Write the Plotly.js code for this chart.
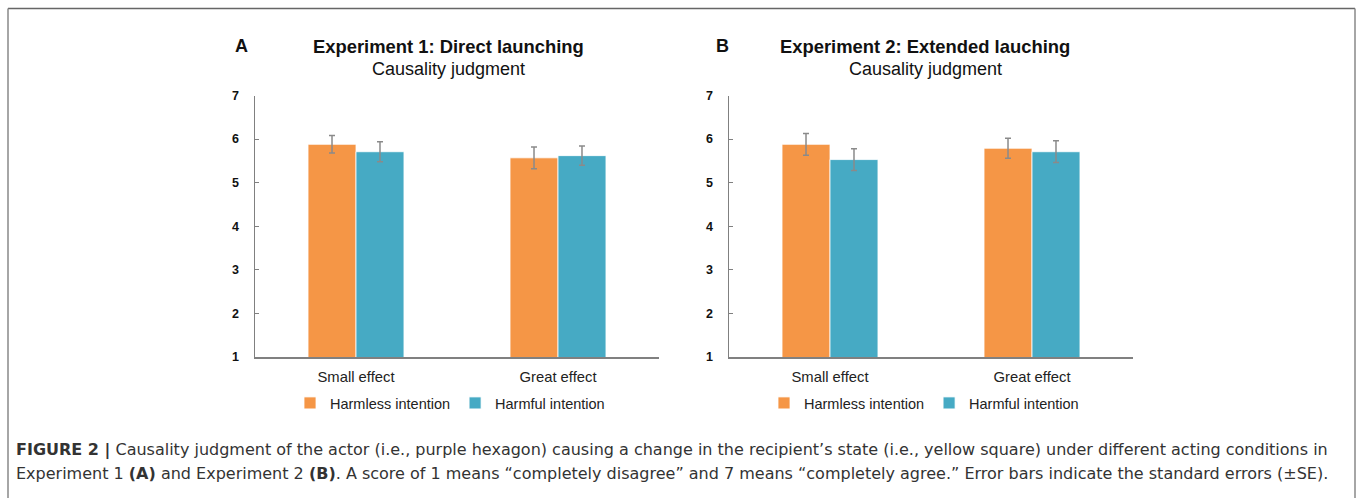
<!DOCTYPE html>
<html>
<head>
<meta charset="utf-8">
<script src="https://cdn.plot.ly/plotly-3.0.1.min.js"></script>
<style>
  html, body { margin: 0; padding: 0; background: #fff; }
  #chart { width: 1357px; height: 498px; }
</style>
</head>
<body>
<div id="chart"></div>
<script>
// ---- data ----
const categories = ["Small effect", "Great effect"];
const seriesNames = ["Harmless intention", "Harmful intention"];
const exp1Harmless = [5.88, 5.57];
const exp1Harmful = [5.71, 5.62];
const exp1HarmlessSE = [0.20, 0.25];
const exp1HarmfulSE = [0.23, 0.22];
const exp2Harmless = [5.88, 5.79];
const exp2Harmful = [5.53, 5.71];
const exp2HarmlessSE = [0.25, 0.23];
const exp2HarmfulSE = [0.25, 0.25];
const yTicks = [1, 2, 3, 4, 5, 6, 7];

// ---- styles ----
const W = 1357, H = 498;
const ORANGE = "#F59646";
const TEAL = "#46AAC4";
const ERR = "#8a8a8a";
const AX = "#808080";
const FONT = "Liberation Sans, Arial, Helvetica, sans-serif";
const CAPFONT = "DejaVu Sans, Liberation Sans, sans-serif";
const px = v => v / W;
const py = v => 1 - v / H;

function barTrace(name, x, y, se, color, xa, ya, legend, show) {
  return {
    type: "bar", name: name, x: x, y: y, xaxis: xa, yaxis: ya,
    legend: legend, showlegend: show,
    marker: { color: color, line: { color: "#ffffff", width: 0.8 } },
    error_y: { type: "data", array: se, visible: true, color: ERR, thickness: 1.5, width: 3 },
    hoverinfo: "x+y"
  };
}

const data = [
  barTrace(seriesNames[0], categories, exp1Harmless, exp1HarmlessSE, ORANGE, "x", "y", "legend", true),
  barTrace(seriesNames[1], categories, exp1Harmful, exp1HarmfulSE, TEAL, "x", "y", "legend", true),
  barTrace(seriesNames[0], categories, exp2Harmless, exp2HarmlessSE, ORANGE, "x2", "y2", "legend2", true),
  barTrace(seriesNames[1], categories, exp2Harmful, exp2HarmfulSE, TEAL, "x2", "y2", "legend2", true)
];

const yDomain = [py(357), py(95.5)];

function xAxis(d0, d1, anchor) {
  return {
    domain: [px(d0), px(d1)], anchor: anchor, type: "category",
    range: [-0.5, 1.5], showgrid: false, zeroline: false,
    showline: true, linecolor: AX, linewidth: 1.5, ticks: "",
    tickfont: { family: FONT, size: 14.8, color: "#222" },
    ticklabelstandoff: 6, fixedrange: true
  };
}
function yAxis(anchor) {
  return {
    domain: yDomain, anchor: anchor, range: [1, 7],
    tickvals: yTicks, ticktext: yTicks.map(String),
    showgrid: false, zeroline: false,
    showline: true, linecolor: AX, linewidth: 1.5,
    ticks: "inside", ticklen: 4, tickcolor: AX, tickwidth: 1,
    tickfont: { family: FONT, size: 12.5, color: "#111", weight: "bold" },
    ticklabelstandoff: 12, fixedrange: true
  };
}

function legendCfg(cx) {
  return {
    orientation: "h", x: px(cx), xanchor: "center", y: py(403), yanchor: "middle",
    font: { family: FONT, size: 14.5, color: "#222" },
    itemwidth: 30, tracegroupgap: 0, bgcolor: "rgba(0,0,0,0)"
  };
}

const ann = [];
function title(cx, letter, lx, main) {
  ann.push({ xref: "paper", yref: "paper", x: px(lx), y: py(46), xanchor: "center", yanchor: "middle",
    text: "<b>" + letter + "</b>", showarrow: false, font: { family: FONT, size: 18, color: "#111" } });
  ann.push({ xref: "paper", yref: "paper", x: px(cx), y: py(46), xanchor: "center", yanchor: "middle",
    text: "<b>" + main + "</b>", showarrow: false, font: { family: FONT, size: 18.4, color: "#111" } });
  ann.push({ xref: "paper", yref: "paper", x: px(cx), y: py(69), xanchor: "center", yanchor: "middle",
    text: "Causality judgment", showarrow: false, font: { family: FONT, size: 18, color: "#111" } });
}
title(448, "A", 241, "Experiment 1: Direct launching");
title(925, "B", 722, "Experiment 2: Extended lauching");

const CAP = { family: CAPFONT, size: 16, color: "#333" };
ann.push({ xref: "paper", yref: "paper", x: px(14), y: py(450), xanchor: "left", yanchor: "middle", showarrow: false, font: CAP,
  text: "<b>FIGURE 2 |</b> Causality judgment of the actor (i.e., purple hexagon) causing a change in the recipient’s state (i.e., yellow square) under different acting conditions in" });
ann.push({ xref: "paper", yref: "paper", x: px(14), y: py(473), xanchor: "left", yanchor: "middle", showarrow: false, font: CAP,
  text: "Experiment 1 <b>(A)</b> and Experiment 2 <b>(B)</b>. A score of 1 means “completely disagree” and 7 means “completely agree.” Error bars indicate the standard errors (±SE)." });

const layout = {
  width: W, height: H,
  margin: { l: 0, r: 0, t: 0, b: 0 },
  paper_bgcolor: "#ffffff", plot_bgcolor: "#ffffff",
  font: { family: FONT },
  barmode: "group", bargap: 0.525, bargroupgap: 0,
  xaxis: xAxis(255, 659, "y"),
  yaxis: yAxis("x"),
  xaxis2: xAxis(729, 1133, "y2"),
  yaxis2: yAxis("x2"),
  legend: legendCfg(450),
  legend2: legendCfg(924),
  annotations: ann,
  shapes: [
    { type: "line", xref: "paper", yref: "paper", x0: px(8), x1: px(1355), y0: py(8.5), y1: py(8.5), line: { color: "#666", width: 1.5 } },
    { type: "line", xref: "paper", yref: "paper", x0: px(8), x1: px(8), y0: py(8.5), y1: 0, line: { color: "#888", width: 1.5 } },
    { type: "line", xref: "paper", yref: "paper", x0: px(1355), x1: px(1355), y0: py(8.5), y1: 0, line: { color: "#888", width: 1.5 } }
  ]
};

Plotly.newPlot("chart", data, layout, { displayModeBar: false, staticPlot: true });
</script>
</body>
</html>
